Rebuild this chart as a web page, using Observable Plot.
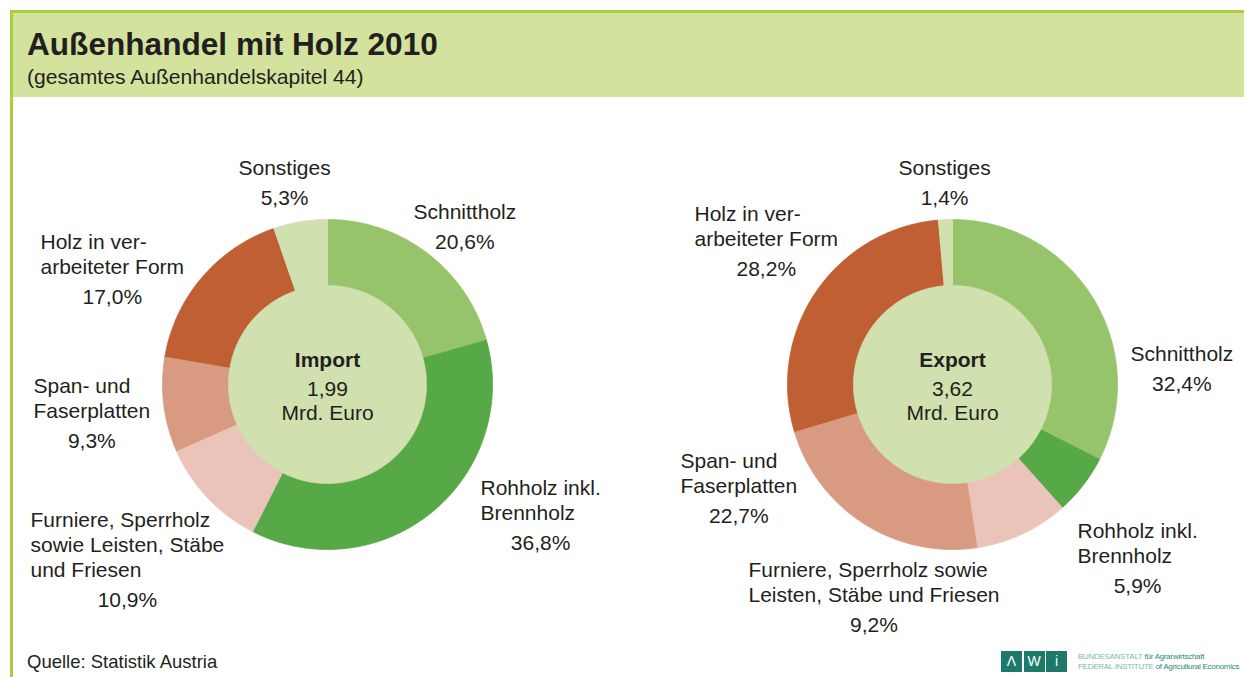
<!DOCTYPE html>
<html>
<head>
<meta charset="utf-8">
<script src="https://cdn.jsdelivr.net/npm/d3@7"></script>
<script src="https://cdn.jsdelivr.net/npm/@observablehq/plot@0.6"></script>
<style>
html, body { margin: 0; padding: 0; background: #fff; width: 1244px; height: 677px; overflow: hidden;
  font-family: "Liberation Sans", Arial, Helvetica, sans-serif; color: #231f20; }
#frame { position: absolute; left: 10px; top: 10px; width: 1234px; height: 667px;
  border-top: 3px solid #a8cf3e; border-left: 3px solid #a8cf3e; box-sizing: border-box; }
#banner { position: absolute; left: 13px; top: 13px; width: 1231px; height: 84px; background: #d3e29c; }
#title { position: absolute; left: 27px; top: 28.5px; font-size: 31.6px; font-weight: bold; line-height: 1; white-space: nowrap; }
#subtitle { position: absolute; left: 27px; top: 65.5px; font-size: 21.1px; line-height: 1; white-space: nowrap; }
#chart { position: absolute; left: 0; top: 97px; }
#chart svg { background: transparent; }
#caption { position: absolute; left: 27px; top: 652.5px; font-size: 18.5px; line-height: 1; white-space: nowrap; }
.box { position: absolute; top: 651px; width: 21px; height: 21px; background: #1d7a6b; color: #fff;
  font-size: 14px; line-height: 21px; text-align: center; }
#logotext { position: absolute; left: 1078px; top: 652px; font-size: 8px; line-height: 10px; white-space: nowrap; letter-spacing: -0.2px; }
.lt { color: #7ab8ac; }
.dk { color: #2b8676; }
</style>
</head>
<body>
<div id="frame"></div>
<div id="banner"></div>
<div id="title">Außenhandel mit Holz 2010</div>
<div id="subtitle">(gesamtes Außenhandelskapitel 44)</div>
<div id="chart"></div>
<div id="caption">Quelle: Statistik Austria</div>
<div class="box" style="left:1001px">Λ</div>
<div class="box" style="left:1023.5px">W</div>
<div class="box" style="left:1046px">i</div>
<div id="logotext"><span class="lt">BUNDESANSTALT</span> <span class="dk">für Agrarwirtschaft</span><br><span class="lt">FEDERAL INSTITUTE</span> <span class="dk">of Agricultural Economics</span></div>
<script>
// ---------- DATA ----------
const categories = ["Schnittholz", "Rohholz inkl. Brennholz", "Furniere, Sperrholz sowie Leisten, Stäbe und Friesen",
  "Span- und Faserplatten", "Holz in verarbeiteter Form", "Sonstiges"];
const importShares = [20.6, 36.8, 10.9, 9.3, 17.0, 5.3];
const exportShares = [32.4, 5.9, 9.2, 22.7, 28.2, 1.4];
const importLabelLines = [["Schnittholz"], ["Rohholz inkl.", "Brennholz"],
  ["Furniere, Sperrholz", "sowie Leisten, Stäbe", "und Friesen"], ["Span- und", "Faserplatten"],
  ["Holz in ver-", "arbeiteter Form"], ["Sonstiges"]];
const exportLabelLines = [["Schnittholz"], ["Rohholz inkl.", "Brennholz"],
  ["Furniere, Sperrholz sowie", "Leisten, Stäbe und Friesen"], ["Span- und", "Faserplatten"],
  ["Holz in ver-", "arbeiteter Form"], ["Sonstiges"]];
const chartNames = ["Import", "Export"];
const totalValues = [1.99, 3.62];
const totalUnit = "Mrd. Euro";

// ---------- STYLE / LAYOUT ----------
const sliceColors = ["#97c36b", "#57a846", "#eac4b8", "#d89a80", "#bf5f33", "#d0e0ae"];
const holeColor = "#d0e0ae";
const textColor = "#231f20";
const W = 1244, H = 543;          // svg size
const R = 165;                    // outer radius in px = 1 data unit
const innerRatio = 0.6;
const centersPx = [[327, 287], [952, 287]]; // donut centres in svg px
// label block anchors (left edge / first line), px offsets from donut centre
const labelOffsets = [
  [[86, -172], [153, 104], [-297, 136], [-294, 2], [-287, -142], [-89, -216]],
  [[178, -30], [125, 147], [-204, 186], [-272, 77], [-258, -170], [-54, -216]]
];
const lineStep = 25, pctGap = 30, fontSize = 21;

// ---------- GEOMETRY (from data) ----------
const x0 = centersPx[0][0], y0 = centersPx[0][1];
const toX = px => (px - x0) / R;
const toY = py => (y0 - py) / R;
const charts = [importShares, exportShares];
const labelSets = [importLabelLines, exportLabelLines];

const sliceRows = [];
const discRows = [];
const nameRows = [];
const pctRows = [];
const centerTitleRows = [];
const centerRows = [];

const ctx = document.createElement("canvas").getContext("2d");
ctx.font = `${fontSize}px "Liberation Sans"`;
const fmt = v => v.toFixed(1).replace(".", ",") + "%";

charts.forEach((shares, ci) => {
  const cx = toX(centersPx[ci][0]), cy = toY(centersPx[ci][1]);
  const total = d3.sum(shares);
  let acc = 0;
  shares.forEach((v, i) => {
    const a0 = acc / total * 2 * Math.PI;
    acc += v;
    const a1 = acc / total * 2 * Math.PI;
    const n = Math.max(4, Math.ceil((a1 - a0) / (Math.PI / 360)));
    const key = `${ci}-${i}`;
    for (let k = 0; k <= n; k++) {
      const a = a0 + (a1 - a0) * k / n;
      sliceRows.push({x: cx + Math.sin(a), y: cy + Math.cos(a), key, color: sliceColors[i]});
    }
    for (let k = n; k >= 0; k--) {
      const a = a0 + (a1 - a0) * k / n;
      sliceRows.push({x: cx + innerRatio * 0.98 * Math.sin(a), y: cy + innerRatio * 0.98 * Math.cos(a), key, color: sliceColors[i]});
    }
    const lines = labelSets[ci][i];
    const [dx, dy] = labelOffsets[ci][i];
    const leftPx = centersPx[ci][0] + dx, topPx = centersPx[ci][1] + dy;
    let maxW = 0;
    lines.forEach((t, li) => {
      nameRows.push({x: toX(leftPx), y: toY(topPx + li * lineStep), text: t});
      maxW = Math.max(maxW, ctx.measureText(t).width);
    });
    pctRows.push({x: toX(leftPx + maxW / 2), y: toY(topPx + (lines.length - 1) * lineStep + pctGap), text: fmt(v)});
  });
  for (let k = 0; k <= 720; k++) {
    const a = k / 720 * 2 * Math.PI;
    discRows.push({x: cx + innerRatio * Math.sin(a), y: cy + innerRatio * Math.cos(a), key: `d${ci}`});
  }
  centerTitleRows.push({x: cx, y: toY(centersPx[ci][1] - 24), text: chartNames[ci]});
  centerRows.push({x: cx, y: toY(centersPx[ci][1] + 5), text: totalValues[ci].toFixed(2).replace(".", ",")});
  centerRows.push({x: cx, y: toY(centersPx[ci][1] + 29), text: totalUnit});
});

const plot = Plot.plot({
  width: W, height: H, margin: 0,
  x: {domain: [toX(0), toX(W)], axis: null},
  y: {domain: [toY(H), toY(0)], axis: null},
  color: {type: "identity"},
  style: {background: "transparent", fontFamily: '"Liberation Sans", Arial, sans-serif', color: textColor},
  marks: [
    Plot.line(sliceRows, {x: "x", y: "y", z: "key", fill: "color", stroke: "color", strokeWidth: 0.8, curve: "linear"}),
    Plot.line(discRows, {x: "x", y: "y", z: "key", fill: holeColor, stroke: holeColor, strokeWidth: 0.8, curve: "linear"}),
    Plot.text(nameRows, {x: "x", y: "y", text: "text", textAnchor: "start", fontSize, fill: textColor}),
    Plot.text(pctRows, {x: "x", y: "y", text: "text", textAnchor: "middle", fontSize, fill: textColor}),
    Plot.text(centerTitleRows, {x: "x", y: "y", text: "text", textAnchor: "middle", fontSize, fontWeight: "bold", fill: textColor}),
    Plot.text(centerRows, {x: "x", y: "y", text: "text", textAnchor: "middle", fontSize, fill: textColor})
  ]
});
document.getElementById("chart").appendChild(plot);

// fit logo text inside the page width
const lt = document.getElementById("logotext");
let fs = 8;
while (lt.getBoundingClientRect().right > 1241 && fs > 5) { fs -= 0.1; lt.style.fontSize = fs + "px"; }
</script>
</body>
</html>
